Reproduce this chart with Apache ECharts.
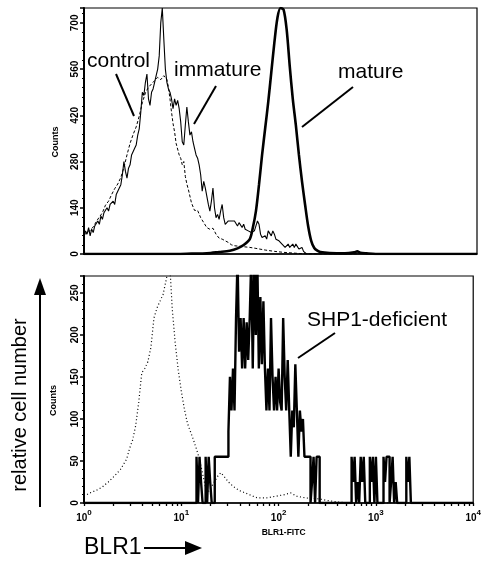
<!DOCTYPE html>
<html><head><meta charset="utf-8">
<script src="https://cdn.jsdelivr.net/npm/echarts@6/dist/echarts.min.js"></script>
<style>html,body{margin:0;padding:0;background:#fff}#c{width:484px;height:561px}</style>
</head><body><div id="c"></div>
<script>
// x values are histogram channels (256 channels = 4 log decades, 64 per decade)
const decadeExponents = ['0', '1', '2', '3', '4'];
const topYTicks = [0, 140, 280, 420, 560, 700];
const bottomYTicks = [0, 50, 100, 150, 200, 250];

// top panel: control (dashed)
const controlData = [[0,60],[2,62],[4,72],[6,82],[8,98],[10,112],[12,125],[14,148],[16,160],[18,180],[20,198],[22,212],[24,232],[26,262],[28,300],[30,335],[32,362],[34,385],[36,418],[38,458],[40,488],[42,505],[44,515],[46,525],[48,535],[50,528],[52,540],[54,528],[55,505],[56,470],[57,430],[58,395],[59,370],[60,335],[62,300],[63,290],[64,270],[65,280],[66,235],[67,212],[68,195],[70,155],[72,132],[74,132],[76,110],[78,95],[80,80],[82,75],[84,78],[86,60],[88,48],[90,45],[92,40],[94,35],[96,28],[98,25],[100,24],[104,22],[108,20],[112,17],[118,12],[124,8],[130,5],[136,3],[142,1],[148,0],[178,0],[181,4],[184,3],[187,0],[256,0]];
// top panel: immature (thin solid)
const immatureData = [[0,55],[1,70],[2,60],[3,80],[4,55],[5,75],[6,65],[7,85],[8,80],[9,100],[10,90],[11,115],[12,105],[13,125],[14,120],[15,140],[16,130],[17,150],[18,145],[19,160],[20,150],[21,180],[22,175],[23,200],[24,210],[25,240],[26,280],[27,250],[28,230],[29,260],[30,270],[31,300],[32,295],[33,320],[34,330],[35,360],[36,380],[37,430],[38,490],[39,480],[40,520],[41,545],[42,470],[43,450],[44,490],[45,500],[46,520],[47,540],[48,560],[49,600],[50,700],[51,745],[52,650],[53,560],[54,520],[55,500],[56,490],[57,470],[58,440],[59,470],[60,450],[61,465],[62,440],[63,400],[64,340],[65,330],[66,390],[67,445],[68,400],[69,360],[70,370],[71,340],[72,320],[73,300],[74,290],[75,270],[76,240],[77,190],[78,220],[79,200],[80,200],[81,150],[82,130],[83,160],[84,200],[85,140],[86,110],[87,120],[88,105],[89,130],[90,150],[91,110],[92,90],[93,85],[94,100],[95,95],[96,100],[97,98],[98,100],[99,95],[100,85],[101,95],[102,92],[103,80],[104,90],[105,75],[106,78],[107,70],[108,75],[109,65],[110,66],[111,70],[112,85],[113,100],[114,90],[115,60],[116,50],[117,45],[118,55],[119,45],[120,70],[121,75],[122,55],[123,70],[124,60],[125,45],[126,50],[127,40],[128,45],[129,30],[130,25],[131,20],[132,25],[133,30],[134,20],[135,25],[136,30],[137,20],[138,30],[139,25],[140,15],[141,10],[142,20],[143,8],[144,5],[145,0],[256,0]];
// top panel: mature (thick solid)
const matureData = [[0,0],[60,0],[70,1],[80,2],[88,6],[95,10],[100,17],[104,27],[108,45],[110,80],[112,130],[114,210],[116,300],[118,380],[120,460],[122,550],[124,640],[126,715],[128,745],[130,740],[132,680],[134,570],[136,470],[138,390],[140,300],[142,220],[144,150],[146,85],[148,40],[150,18],[152,10],[154,6],[160,3],[170,2],[176,5],[178,8],[180,4],[184,2],[190,0],[256,0]];
// bottom panel: control (dotted)
const bottomControlData = [[0,8],[4,12],[8,15],[12,19],[16,25],[20,32],[24,40],[28,52],[30,65],[32,75],[34,92],[36,120],[38,155],[40,160],[42,168],[44,185],[46,220],[48,232],[50,240],[52,248],[54,265],[55,275],[56,290],[57,265],[58,232],[60,190],[62,158],[64,133],[66,112],[68,95],[70,85],[72,75],[74,64],[76,52],[78,35],[80,18],[82,14],[84,20],[86,26],[88,32],[90,36],[92,32],[95,25],[98,20],[102,15],[106,12],[110,9],[114,6],[120,6],[126,8],[132,10],[136,12],[140,8],[146,6],[154,5],[160,3],[168,1],[175,0],[256,0]];
// bottom panel: SHP1-deficient (thick step histogram)
const shp1Data = [[0,0],[74,55],[75,0],[76,55],[77,25],[78,0],[80,55],[81,0],[82,55],[83,25],[84,0],[86,55],[95,85],[96,150],[97,110],[98,160],[99,110],[100,220],[101,290],[102,180],[103,220],[104,160],[105,220],[106,160],[107,215],[108,170],[109,220],[110,290],[111,160],[112,290],[113,200],[114,290],[115,160],[116,245],[117,165],[118,240],[119,160],[120,110],[121,160],[122,110],[123,220],[124,150],[125,110],[126,150],[127,110],[128,160],[129,120],[130,110],[131,220],[132,150],[133,110],[134,170],[135,110],[136,55],[137,110],[138,90],[139,165],[140,110],[141,55],[142,110],[143,85],[144,100],[145,55],[149,0],[150,25],[151,55],[152,0],[153,55],[155,0],[176,55],[177,25],[178,55],[179,0],[180,25],[181,0],[182,55],[183,25],[184,55],[185,0],[188,55],[189,25],[190,55],[191,0],[192,55],[193,0],[197,55],[198,25],[199,55],[200,55],[201,0],[202,25],[203,55],[204,0],[205,25],[206,0],[212,55],[213,25],[214,55],[215,0],[256,0]];

const FONT = 'Liberation Sans, Arial, sans-serif';
const CH_PER_DECADE = 64;
const majorTickValues = decadeExponents.map((e, i) => i * CH_PER_DECADE);
const logTickValues = majorTickValues.slice();
for (let d = 0; d < 4; d++) for (let k = 2; k <= 9; k++) logTickValues.push(CH_PER_DECADE * (d + Math.log10(k)));
logTickValues.sort((a, b) => a - b);

const chart = echarts.init(document.getElementById('c'), null, {renderer: 'canvas'});

function yAxisCfg(gridIndex, max, interval, ticks, nameGap) {
  return {
    type: 'value', gridIndex, min: 0, max, interval,
    axisLine: {show: true, lineStyle: {color: '#000', width: 2}},
    axisTick: {show: true, length: 4, lineStyle: {color: '#000', width: 1.5}},
    minorTick: {show: true, splitNumber: 5, length: 2, lineStyle: {color: '#000', width: 1.2}},
    splitLine: {show: false},
    axisLabel: {rotate: 90, color: '#000', fontFamily: FONT, fontSize: 10, fontWeight: 'bold', margin: 4,
      showMaxLabel: false, formatter: v => (ticks.indexOf(v) >= 0 ? String(v) : '')},
    name: 'Counts', nameLocation: 'middle', nameGap, nameRotate: 90,
    nameTextStyle: {color: '#000', fontFamily: FONT, fontSize: 9, fontWeight: 'bold', padding: [0, 22, 0, 0]}
  };
}

const option = {
  animation: false,
  backgroundColor: '#fff',
  grid: [
    {left: 84, top: 8, width: 393, height: 246, show: true, borderColor: '#000', borderWidth: 1.2, backgroundColor: 'transparent'},
    {left: 84, top: 276, width: 393, height: 227, show: true, borderColor: '#000', borderWidth: 1.2, backgroundColor: 'transparent'}
  ],
  xAxis: [
    {type: 'value', gridIndex: 0, min: 0, max: 256, interval: 64,
     axisLine: {lineStyle: {color: '#000', width: 1.5}}, axisTick: {show: false}, axisLabel: {show: false}, splitLine: {show: false}},
    {type: 'value', gridIndex: 1, min: 0, max: 256, interval: 64,
     axisLine: {lineStyle: {color: '#000', width: 1.5}},
     axisTick: {show: true, length: 3, customValues: logTickValues, lineStyle: {color: '#000', width: 1.3}},
     splitLine: {show: false},
     axisLabel: {margin: 6, color: '#000', fontFamily: FONT, customValues: majorTickValues,
       formatter: v => '{b|10}{s|' + decadeExponents[Math.round(v / CH_PER_DECADE)] + '}',
       rich: {b: {fontSize: 10, fontWeight: 'bold', fontFamily: FONT, color: '#000', verticalAlign: 'bottom'},
              s: {fontSize: 8, fontWeight: 'bold', fontFamily: FONT, color: '#000', verticalAlign: 'top', padding: [0, 0, 6, 0]}}},
     name: 'BLR1-FITC', nameLocation: 'middle', nameGap: 25,
     nameTextStyle: {color: '#000', fontFamily: FONT, fontSize: 8.5, fontWeight: 'bold', padding: [0, 0, 0, 10]}}
  ],
  yAxis: [yAxisCfg(0, 745, 140, topYTicks, 24), yAxisCfg(1, 270, 50, bottomYTicks, 26)],
  series: [
    {name: 'control', type: 'line', xAxisIndex: 0, yAxisIndex: 0, data: controlData, showSymbol: false,
     lineStyle: {color: '#000', width: 1, type: [3, 2]}},
    {name: 'immature', type: 'line', xAxisIndex: 0, yAxisIndex: 0, data: immatureData, showSymbol: false,
     lineStyle: {color: '#000', width: 1.1}},
    {name: 'mature', type: 'line', xAxisIndex: 0, yAxisIndex: 0, data: matureData, showSymbol: false, smooth: 0.3,
     lineStyle: {color: '#000', width: 2.6}},
    {name: 'control (bottom)', type: 'line', xAxisIndex: 1, yAxisIndex: 1, data: bottomControlData, showSymbol: false,
     lineStyle: {color: '#000', width: 1.2, type: [1, 2.5]}},
    {name: 'SHP1-deficient', type: 'line', xAxisIndex: 1, yAxisIndex: 1, data: shp1Data, showSymbol: false, step: 'end',
     lineStyle: {color: '#000', width: 2.4}}
  ],
  graphic: [
    {type: 'text', x: 87, y: 61, style: {text: 'control', font: '21px ' + FONT, fill: '#000', align: 'left', verticalAlign: 'middle'}},
    {type: 'line', shape: {x1: 116, y1: 74, x2: 134, y2: 116}, style: {stroke: '#000', lineWidth: 2}},
    {type: 'text', x: 174, y: 70, style: {text: 'immature', font: '21px ' + FONT, fill: '#000', align: 'left', verticalAlign: 'middle'}},
    {type: 'line', shape: {x1: 216, y1: 86, x2: 194, y2: 124}, style: {stroke: '#000', lineWidth: 2}},
    {type: 'text', x: 338, y: 72, style: {text: 'mature', font: '21px ' + FONT, fill: '#000', align: 'left', verticalAlign: 'middle'}},
    {type: 'line', shape: {x1: 353, y1: 87, x2: 302, y2: 127}, style: {stroke: '#000', lineWidth: 2}},
    {type: 'text', x: 307, y: 320, style: {text: 'SHP1-deficient', font: '21px ' + FONT, fill: '#000', align: 'left', verticalAlign: 'middle'}},
    {type: 'line', shape: {x1: 335, y1: 333, x2: 298, y2: 358}, style: {stroke: '#000', lineWidth: 2}},
    {type: 'text', x: 20, y: 405, rotation: Math.PI / 2, style: {text: 'relative cell number', font: '20px ' + FONT, fill: '#000', align: 'center', verticalAlign: 'middle'}},
    {type: 'line', shape: {x1: 40, y1: 507, x2: 40, y2: 290}, style: {stroke: '#000', lineWidth: 2}},
    {type: 'polygon', shape: {points: [[40, 278], [34, 295], [46, 295]]}, style: {fill: '#000'}},
    {type: 'text', x: 84, y: 548, style: {text: 'BLR1', font: '23px ' + FONT, fill: '#000', align: 'left', verticalAlign: 'middle'}},
    {type: 'line', shape: {x1: 144, y1: 548, x2: 190, y2: 548}, style: {stroke: '#000', lineWidth: 2}},
    {type: 'polygon', shape: {points: [[202, 548], [185, 541], [185, 555]]}, style: {fill: '#000'}}
  ]
};
chart.setOption(option);
</script></body></html>
